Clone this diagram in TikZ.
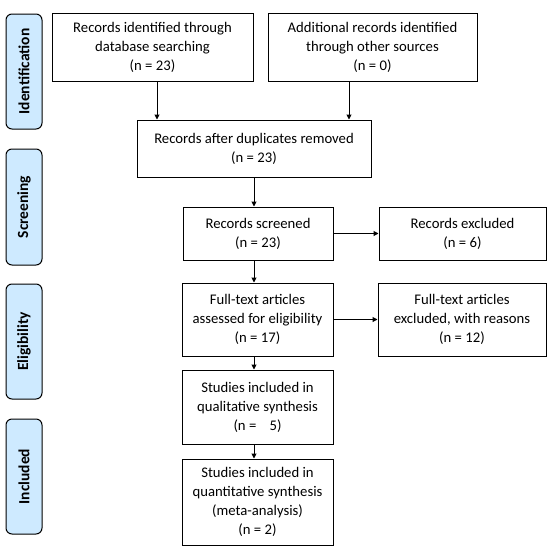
\documentclass[tikz,border=0pt]{standalone}
\usepackage{fontspec}
\setmainfont{Carlito}
\usetikzlibrary{arrows.meta}
\definecolor{sideblue}{RGB}{206,234,255}
\newcommand\boxfont{\fontsize{14.7}{19}\selectfont}
\newcommand\sidefont{\fontsize{15.5}{19}\selectfont\bfseries}
\begin{document}
\begin{tikzpicture}[x=1pt,y=-1pt,
  flowbox/.style={draw, line width=1pt, inner sep=0pt, align=center, font=\boxfont},
  sidebox/.style={draw, line width=1pt, rounded corners=6pt, fill=sideblue, inner sep=0pt,
    minimum width=36pt, minimum height=115pt},
  sidelabel/.style={font=\sidefont, rotate=90},
  arr/.style={line width=1pt, -{Triangle[length=5pt,width=5pt]}}]
\useasboundingbox (0,0) rectangle (547,555);
% side stage boxes
\node[sidebox] (sid) at (24,71.5) {};
\node[sidelabel] (lid) at (sid.center) {Identification};
\node[sidebox, minimum height=116pt] (sscr) at (24,207) {};
\node[sidelabel] (lscr) at (sscr.center) {Screening};
\node[sidebox] (selig) at (24,341.5) {};
\node[sidelabel] (lelig) at (selig.center) {Eligibility};
\node[sidebox] (sincl) at (24,476.5) {};
\node[sidelabel] (lincl) at (sincl.center) {Included};
% flow boxes
\node[flowbox, minimum width=201pt, minimum height=68pt] (b1) at (152.5,47)
  {Records identified through\\database searching\\(n = 23)};
\node[flowbox, minimum width=209pt, minimum height=68pt] (b2) at (372.5,47)
  {Additional records identified\\through other sources\\(n = 0)};
\node[flowbox, minimum width=234pt, minimum height=57pt] (b3) at (254,148.5)
  {Records after duplicates removed\\(n = 23)};
\node[flowbox, minimum width=150pt, minimum height=53pt] (b4) at (258,233.5)
  {Records screened\\(n = 23)};
\node[flowbox, minimum width=167pt, minimum height=53pt] (b5) at (462.5,233.5)
  {Records excluded\\(n = 6)};
\node[flowbox, minimum width=151pt, minimum height=73pt] (b6) at (257.5,319.5)
  {Full-text articles\\assessed for eligibility\\(n = 17)};
\node[flowbox, minimum width=168pt, minimum height=73pt] (b7) at (462,319.5)
  {Full-text articles\\excluded, with reasons\\(n = 12)};
\node[flowbox, minimum width=151pt, minimum height=74pt] (b8) at (257.5,407)
  {Studies included in\\qualitative synthesis\\(n =\hspace{0.9em}5)};
\node[flowbox, minimum width=151pt, minimum height=86pt] (b9) at (257.5,502)
  {Studies included in\\quantitative synthesis\\(meta-analysis)\\(n = 2)};
% connectors
\draw[arr] ([xshift=4.5pt]b1.south) -- ([xshift=4.5pt]b1.south |- b3.north);
\draw[arr] ([xshift=-23.5pt]b2.south) -- ([xshift=-23.5pt]b2.south |- b3.north);
\draw[arr] (b3.south) -- (b3.south |- b4.north);
\draw[arr] (b4.south -| b3.south) -- (b3.south |- b6.north);
\draw[arr] (b6.south -| b3.south) -- (b3.south |- b8.north);
\draw[arr] (b8.south -| b3.south) -- (b3.south |- b9.north);
\draw[arr] (b4.east) -- (b5.west);
\draw[arr] (b6.east) -- (b7.west);
\end{tikzpicture}
\end{document}
